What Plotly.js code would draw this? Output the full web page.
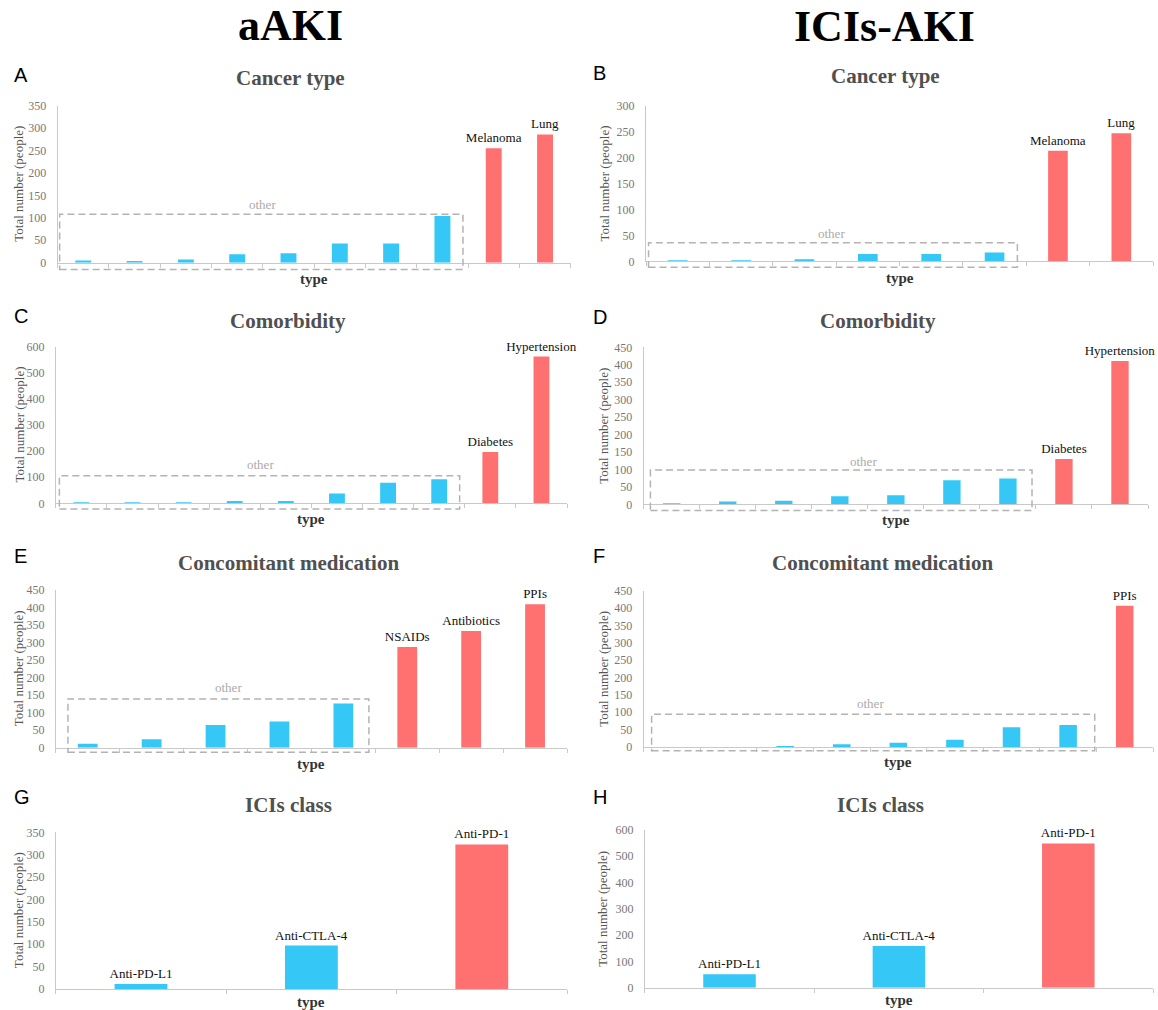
<!DOCTYPE html>
<html><head><meta charset="utf-8">
<script src="https://cdn.plot.ly/plotly-3.0.1.min.js"></script>
<style>html,body{margin:0;padding:0;background:#fff}#chart{width:1158px;height:1010px}</style>
</head><body><div id="chart"></div>
<script>
// ---- Data ----
// A: aAKI – Cancer type
const aCancerOtherValues = [5, 4, 7, 19, 21, 43, 43, 104];
const aCancerNamedLabels = ['Melanoma', 'Lung'];
const aCancerNamedValues = [255, 286];
// B: ICIs-AKI – Cancer type
const iCancerOtherValues = [2, 2, 4, 14, 14, 17];
const iCancerNamedLabels = ['Melanoma', 'Lung'];
const iCancerNamedValues = [213, 247];
// C: aAKI – Comorbidity
const aComorbOtherValues = [4, 4, 4, 9, 9, 38, 79, 92];
const aComorbNamedLabels = ['Diabetes', 'Hypertension'];
const aComorbNamedValues = [197, 562];
// D: ICIs-AKI – Comorbidity
const iComorbOtherValues = [3, 8, 10, 23, 26, 69, 74];
const iComorbNamedLabels = ['Diabetes', 'Hypertension'];
const iComorbNamedValues = [130, 411];
// E: aAKI – Concomitant medication
const aMedOtherValues = [11, 24, 65, 75, 126];
const aMedNamedLabels = ['NSAIDs', 'Antibiotics', 'PPIs'];
const aMedNamedValues = [287, 333, 409];
// F: ICIs-AKI – Concomitant medication
const iMedOtherValues = [0, 0, 3, 8, 12, 21, 57, 63];
const iMedNamedLabels = ['PPIs'];
const iMedNamedValues = [407];
// G: aAKI – ICIs class
const aClassOtherLabels = ['Anti-PD-L1', 'Anti-CTLA-4'];
const aClassOtherValues = [11, 97];
const aClassNamedLabels = ['Anti-PD-1'];
const aClassNamedValues = [323];
// H: ICIs-AKI – ICIs class
const iClassOtherLabels = ['Anti-PD-L1', 'Anti-CTLA-4'];
const iClassOtherValues = [51, 159];
const iClassNamedLabels = ['Anti-PD-1'];
const iClassNamedValues = [549];

const columnHeaders = ['aAKI', 'ICIs-AKI'];
const yTitle = 'Total number (people)';
const xTitle = 'type';
const otherText = 'other';

// ---- Layout / style ----
const W = 1158, H = 1010;
const BLUE = '#35C8F6', RED = '#FF7171';
const SERIF = 'Liberation Serif, Times New Roman, serif';
const SANS = 'Liberation Sans, Arial, sans-serif';

const panels = [
  {letter:'A', title:'Cancer type', other:aCancerOtherValues, otherLabels:null, named:aCancerNamedLabels, namedVals:aCancerNamedValues,
   ymax:350, dtick:50, px:[57.6,570.7], py:[105.7,262.7], box:[-0.46,7.4,-15,108], otherPos:[3.5,130],
   letterPos:[12,75], titlePos:[290,78], yTitleX:18.5, typeShift:-16.5},
  {letter:'B', title:'Cancer type', other:iCancerOtherValues, otherLabels:null, named:iCancerNamedLabels, namedVals:iCancerNamedValues,
   ymax:300, dtick:50, px:[646,1153], py:[105.7,261.3], box:[-0.46,5.36,-11.5,36], otherPos:[2.43,53],
   letterPos:[591,73], titlePos:[885,76], yTitleX:604, typeShift:-17},
  {letter:'C', title:'Comorbidity', other:aComorbOtherValues, otherLabels:null, named:aComorbNamedLabels, namedVals:aComorbNamedValues,
   ymax:600, dtick:100, px:[55.8,567], py:[346.7,503.3], box:[-0.43,7.4,-22,106], otherPos:[3.5,147],
   letterPos:[12,316], titlePos:[288,321], yTitleX:18.5, typeShift:-16},
  {letter:'D', title:'Comorbidity', other:iComorbOtherValues, otherLabels:null, named:iComorbNamedLabels, namedVals:iComorbNamedValues,
   ymax:450, dtick:50, px:[643.7,1148], py:[347.3,504.3], box:[-0.38,6.43,-18,98], otherPos:[3.42,124],
   letterPos:[591,317], titlePos:[878,321], yTitleX:604, typeShift:-16},
  {letter:'E', title:'Concomitant medication', other:aMedOtherValues, otherLabels:null, named:aMedNamedLabels, namedVals:aMedNamedValues,
   ymax:450, dtick:50, px:[55.8,567], py:[590,747.7], box:[-0.31,4.4,-13,139], otherPos:[2.2,171],
   letterPos:[12,556], titlePos:[288,563], yTitleX:18.5, typeShift:-16.5},
  {letter:'F', title:'Concomitant medication', other:iMedOtherValues, otherLabels:null, named:iMedNamedLabels, namedVals:iMedNamedValues,
   ymax:450, dtick:50, px:[643.7,1153], py:[590.7,747], box:[-0.36,7.47,-10.5,94], otherPos:[3.5,126],
   letterPos:[591,556], titlePos:[882,563], yTitleX:604, typeShift:-15},
  {letter:'G', title:'ICIs class', other:aClassOtherValues, otherLabels:aClassOtherLabels, named:aClassNamedLabels, namedVals:aClassNamedValues,
   ymax:350, dtick:50, px:[55.8,567], py:[832.3,989], box:null, otherPos:null,
   letterPos:[12,797], titlePos:[288,805], yTitleX:18.5, typeShift:-13},
  {letter:'H', title:'ICIs class', other:iClassOtherValues, otherLabels:iClassOtherLabels, named:iClassNamedLabels, namedVals:iClassNamedValues,
   ymax:600, dtick:100, px:[644.8,1153], py:[830,987.7], box:null, otherPos:null,
   letterPos:[591,797], titlePos:[880,805], yTitleX:603, typeShift:-12.5}
];

const data = [];
const layout = {
  width: W, height: H,
  margin: {l:0, r:0, t:0, b:0},
  paper_bgcolor: '#ffffff', plot_bgcolor: '#ffffff',
  font: {family: SERIF},
  showlegend: false, barmode: 'overlay',
  annotations: [], shapes: []
};

// column headers
layout.annotations.push({text:'<b>'+columnHeaders[0]+'</b>', xref:'paper', yref:'paper', x:290/W, y:1-25/H,
  showarrow:false, xanchor:'center', yanchor:'middle', font:{family:SERIF, size:44, color:'#000'}});
layout.annotations.push({text:'<b>'+columnHeaders[1]+'</b>', xref:'paper', yref:'paper', x:884/W, y:1-26/H,
  showarrow:false, xanchor:'center', yanchor:'middle', font:{family:SERIF, size:44, color:'#000'}});

panels.forEach((p, i) => {
  const n = i + 1;
  const xa = n === 1 ? 'x' : 'x' + n;
  const ya = n === 1 ? 'y' : 'y' + n;
  const xKey = n === 1 ? 'xaxis' : 'xaxis' + n;
  const yKey = n === 1 ? 'yaxis' : 'yaxis' + n;
  const otherIds = p.otherLabels ? p.otherLabels : p.other.map((v, k) => 'other ' + (k + 1));
  const cats = otherIds.concat(p.named);

  data.push({type:'bar', x:otherIds, y:p.other, xaxis:xa, yaxis:ya, width:0.31,
    marker:{color:BLUE, line:{width:0}},
    text: p.otherLabels ? p.otherLabels : null, textposition:'outside', constraintext:'none', cliponaxis:false,
    textfont:{family:SERIF, size:13, color:'#111'}, hoverinfo:'skip'});
  data.push({type:'bar', x:p.named, y:p.namedVals, xaxis:xa, yaxis:ya, width:0.31,
    marker:{color:RED, line:{width:0}},
    text:p.named, textposition:'outside', constraintext:'none', cliponaxis:false,
    textfont:{family:SERIF, size:13, color:'#111'}, hoverinfo:'skip'});

  layout[xKey] = {
    domain:[p.px[0]/W, p.px[1]/W], anchor:ya, type:'category',
    categoryorder:'array', categoryarray:cats, range:[-0.5, cats.length - 0.5],
    showticklabels:false, ticks:'outside', tickson:'boundaries', ticklen:4, tickcolor:'#c9c9c9',
    showline:true, linecolor:'#c9c9c9', linewidth:1, showgrid:false, zeroline:false, fixedrange:true
  };
  layout[yKey] = {
    domain:[1 - p.py[1]/H, 1 - p.py[0]/H], anchor:xa, range:[0, p.ymax], tick0:0, dtick:p.dtick,
    showline:true, linecolor:'#c9c9c9', linewidth:1, ticks:'', ticklabelstandoff:8,
    tickfont:{family:SERIF, size:12, color:'#777'}, showgrid:false, zeroline:false, fixedrange:true
  };

  // panel letter
  layout.annotations.push({text:p.letter, xref:'paper', yref:'paper', x:p.letterPos[0]/W, y:1 - p.letterPos[1]/H,
    xanchor:'left', yanchor:'middle', showarrow:false, font:{family:SANS, size:20, color:'#000'}});
  // panel title
  layout.annotations.push({text:'<b>'+p.title+'</b>', xref:'paper', yref:'paper', x:p.titlePos[0]/W, y:1 - p.titlePos[1]/H,
    xanchor:'center', yanchor:'middle', showarrow:false, font:{family:SERIF, size:21, color:'#505050'}});
  // y-axis title
  layout.annotations.push({text:yTitle, xref:'paper', yref:ya + ' domain', x:p.yTitleX/W, y:0.5, textangle:-90,
    xanchor:'center', yanchor:'middle', showarrow:false, font:{family:SERIF, size:13, color:'#555'}});
  // x-axis title
  layout.annotations.push({text:'<b>'+xTitle+'</b>', xref:xa + ' domain', yref:ya + ' domain', x:0.5, y:0, yshift:p.typeShift,
    xanchor:'center', yanchor:'middle', showarrow:false, font:{family:SERIF, size:15, color:'#333'}});

  if (p.box) {
    layout.shapes.push({type:'rect', xref:xa, yref:ya + ' domain',
      x0:p.box[0], x1:p.box[1], y0:p.box[2]/p.ymax, y1:p.box[3]/p.ymax,
      line:{color:'#b3b3b3', width:1.5, dash:'7px,4px'}, fillcolor:'rgba(0,0,0,0)', layer:'above'});
    layout.annotations.push({text:otherText, xref:xa, yref:ya, x:p.otherPos[0], y:p.otherPos[1],
      xanchor:'center', yanchor:'middle', showarrow:false, font:{family:SERIF, size:13, color:'#ababab'}});
  }
});

Plotly.newPlot('chart', data, layout, {staticPlot:true, displayModeBar:false});
</script>
</body></html>
